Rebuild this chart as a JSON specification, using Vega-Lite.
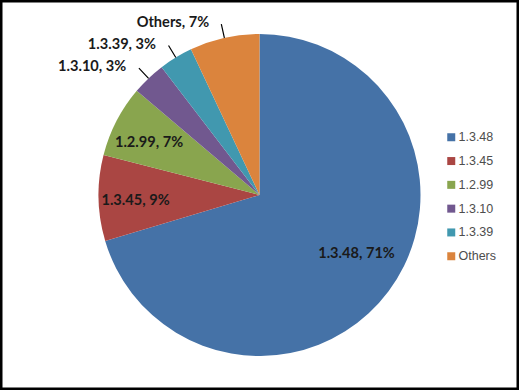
{
  "$schema": "https://vega.github.io/schema/vega-lite/v6.json",
  "width": 519,
  "height": 390,
  "autosize": {"type": "fit", "contains": "padding"},
  "padding": 0,
  "background": "white",
  "view": {"stroke": "#000000", "strokeWidth": 5},
  "config": {
    "view": {"stroke": "#000000", "strokeWidth": 5},
    "font": "Lato"
  },
  "data": {
    "values": [
      {"version": "1.3.48", "value": 70.4, "rank": 1, "label": "1.3.48, 71%"},
      {"version": "1.3.45", "value": 8.6, "rank": 2, "label": "1.3.45, 9%"},
      {"version": "1.2.99", "value": 7.2, "rank": 3, "label": "1.2.99, 7%"},
      {"version": "1.3.10", "value": 3.4, "rank": 4, "label": "1.3.10, 3%"},
      {"version": "1.3.39", "value": 3.4, "rank": 5, "label": "1.3.39, 3%"},
      {"version": "Others", "value": 7.0, "rank": 6, "label": "Others, 7%"}
    ]
  },
  "layer": [
    {
      "mark": {"type": "arc", "outerRadius": 161},
      "encoding": {
        "theta": {"field": "value", "type": "quantitative", "stack": true},
        "order": {"field": "rank", "type": "quantitative"},
        "color": {
          "field": "version",
          "type": "nominal",
          "sort": ["1.3.48", "1.3.45", "1.2.99", "1.3.10", "1.3.39", "Others"],
          "scale": {
            "domain": ["1.3.48", "1.3.45", "1.2.99", "1.3.10", "1.3.39", "Others"],
            "range": ["#4572A7", "#AA4643", "#89A54E", "#71588F", "#4198AF", "#DB843D"]
          },
          "legend": {
            "title": null,
            "orient": "none",
            "legendX": 445,
            "legendY": 131,
            "symbolType": "square",
            "symbolSize": 64,
            "symbolStrokeWidth": 0,
            "labelFont": "Liberation Sans",
            "labelFontSize": 12.5,
            "labelColor": "#4d4d4d",
            "labelOffset": 1,
            "rowPadding": 10.8
          }
        }
      }
    },
    {
      "mark": {"type": "arc", "radius": 175, "radius2": 161, "padAngle": 0.8, "fill": null, "stroke": "#000000", "strokeWidth": 1.2},
      "encoding": {
        "theta": {"field": "value", "type": "quantitative", "stack": true},
        "order": {"field": "rank", "type": "quantitative"},
        "detail": {"field": "version", "type": "nominal"},
        "strokeOpacity": {
          "condition": {"test": "datum.version == '1.3.10' || datum.version == '1.3.39' || datum.version == 'Others'", "value": 1},
          "value": 0
        }
      }
    },
    {
      "mark": {"type": "text", "radius": 121, "dx": -3, "dy": 4, "font": "Lato", "fontWeight": "bold", "fontSize": 14.6, "color": "#1a1a1a"},
      "encoding": {
        "theta": {"field": "value", "type": "quantitative", "stack": true},
        "order": {"field": "rank", "type": "quantitative"},
        "detail": {"field": "version", "type": "nominal"},
        "text": {
          "condition": {"test": "datum.version == '1.3.45' || datum.version == '1.2.99'", "field": "label"},
          "value": ""
        }
      }
    },
    {
      "mark": {"type": "text", "radius": 116, "dx": 4, "dy": -10, "font": "Lato", "fontWeight": "bold", "fontSize": 14.6, "color": "#1a1a1a"},
      "encoding": {
        "theta": {"field": "value", "type": "quantitative", "stack": true},
        "order": {"field": "rank", "type": "quantitative"},
        "detail": {"field": "version", "type": "nominal"},
        "text": {
          "condition": {"test": "datum.version == '1.3.48'", "field": "label"},
          "value": ""
        }
      }
    },
    {
      "mark": {"type": "text", "radius": 176, "dx": -12, "align": "right", "baseline": "middle", "font": "Lato", "fontWeight": "bold", "fontSize": 14.6, "color": "#1a1a1a"},
      "encoding": {
        "theta": {"field": "value", "type": "quantitative", "stack": true},
        "order": {"field": "rank", "type": "quantitative"},
        "detail": {"field": "version", "type": "nominal"},
        "text": {
          "condition": {"test": "datum.version == '1.3.10' || datum.version == '1.3.39' || datum.version == 'Others'", "field": "label"},
          "value": ""
        }
      }
    }
  ]
}
